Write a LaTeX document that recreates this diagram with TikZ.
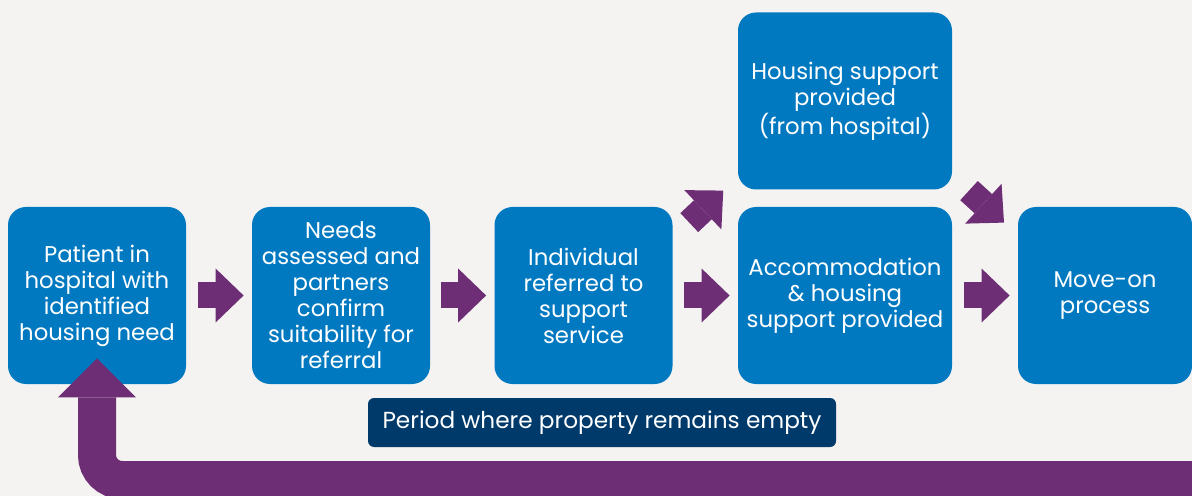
\documentclass[tikz,border=0pt]{standalone}
\usepackage{fontspec}
\setmainfont{Poppins}
\usetikzlibrary{arrows.meta,calc}

\definecolor{boxblue}{HTML}{0079C1}
\definecolor{flowpurple}{HTML}{6E2E75}
\definecolor{labelnavy}{HTML}{003A6B}
\definecolor{paper}{HTML}{F4F3F1}

\begin{document}
\begin{tikzpicture}[x=0.5pt, y=-0.5pt,
		stage/.style={fill=boxblue, rounded corners=9pt, text=white, align=center, inner sep=0pt,
			minimum width=89pt, minimum height=88.5pt, font=\fontsize{11.4}{13}\selectfont},
		widestage/.style={stage, minimum width=107pt},
		flow/.style={draw=flowpurple, line width=13pt, -{Triangle[width=27pt, length=14pt, line width=0pt]}},
		loopback/.style={draw=flowpurple, line width=19pt, rounded corners=12.5pt,
			-{Triangle[width=39pt, length=19.5pt, line width=0pt]}}]
			\useasboundingbox[fill=paper] (0, 0) rectangle (1192, 496);

			\node[stage] at (97, 295.5) (patient) {Patient in\\hospital with\\identified\\housing need};
			\node[stage] at (341, 295.5) (needs) {Needs\\assessed and\\partners\\confirm\\suitability for\\referral};
			\node[stage] at (583.5, 295.5) (referred) {Individual\\referred to\\support\\service};
			\node[widestage] at (845, 295.5) (accom) {Accommodation\\\& housing\\support provided};
			\node[widestage] at (845, 101) (hospsupport) {Housing support\\provided\\ (from hospital)};
			\node[stage, minimum width=87pt] at (1105, 295.5) (moveon) {Move-on\\process};

			\node[fill=labelnavy, rounded corners=3pt, text=white, minimum width=234pt, minimum height=24.5pt,
				font=\fontsize{11.6}{13}\selectfont] at (602, 422.5) (empty) {Period where property remains empty};

			% ends of the two slanted arrows
			\coordinate (upmid) at ($(referred.north east)!0.5!(accom.north west)$);
			\coordinate (downmid) at ($(accom.north east)!0.5!(moveon.north west)$);
			\coordinate (upfrom) at ($(upmid) + (-16, 16)$);
			\coordinate (upto) at ($(upmid) + (18, -16)$);
			\coordinate (downfrom) at ($(downmid) + (-16, -16)$);
			\coordinate (downto) at ($(downmid) + (19, 16)$);

			\path
			(patient) edge[flow, shorten <=6pt, shorten >=4pt] (needs)
			(needs) edge[flow, shorten <=5.5pt, shorten >=4pt] (referred)
			(referred) edge[flow, shorten <=5.5pt, shorten >=4pt] (accom)
			(accom) edge[flow, shorten <=6pt, shorten >=4pt] (moveon)
			(upfrom) edge[flow] (upto)
			(downfrom) edge[flow] (downto);

			% return loop back to the first box
			\coordinate (loopin) at (1240, 480);
			\coordinate (looptip) at ([yshift=13pt]patient.south);
			\draw[loopback] (loopin) -| (looptip);
		\end{tikzpicture}
\end{document}
